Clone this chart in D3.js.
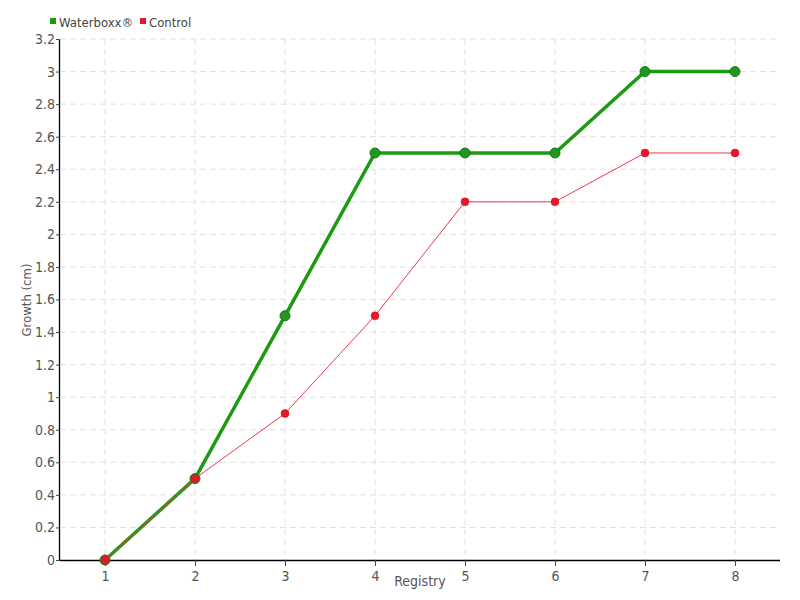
<!DOCTYPE html>
<html><head><meta charset="utf-8">
<script src="https://cdn.jsdelivr.net/npm/d3@7"></script>
<style>
body{margin:0;background:#fff;}
text{font-family:"DejaVu Sans",sans-serif;font-stretch:condensed;}
</style></head>
<body><svg id="c" width="800" height="600"></svg>
<script>
const categories = [1,2,3,4,5,6,7,8];
const waterboxx = [0,0.5,1.5,2.5,2.5,2.5,3.0,3.0];
const control = [0,0.5,0.9,1.5,2.2,2.2,2.5,2.5];
const yTicks = [0,0.2,0.4,0.6,0.8,1,1.2,1.4,1.6,1.8,2,2.2,2.4,2.6,2.8,3,3.2];
const seriesNames = ["Waterboxx®","Control"];

const svg = d3.select("#c");
const m = {l:60, r:20, t:39, b:40};
const W = 800, H = 600;
const x = d3.scalePoint().domain(categories).range([m.l, W-m.r]).padding(0.5);
const y = d3.scaleLinear().domain([0,3.2]).range([H-m.b, m.t]);

// grid
const g = svg.append("g");
g.selectAll(".hg").data(yTicks.slice(1)).enter().append("line")
  .attr("x1", m.l).attr("x2", W-m.r).attr("y1", d=>y(d)).attr("y2", d=>y(d))
  .attr("stroke","#e0e0e0").attr("stroke-dasharray","6,4");
g.selectAll(".vg").data(categories).enter().append("line")
  .attr("x1", d=>x(d)).attr("x2", d=>x(d)).attr("y1", m.t).attr("y2", H-m.b)
  .attr("stroke","#e0e0e0").attr("stroke-dasharray","6,4");

// axes
const yAxis = svg.append("g").attr("transform",`translate(${m.l},0)`)
  .call(d3.axisLeft(y).tickValues(yTicks).tickSize(4).tickFormat(d=>String(+d.toFixed(1))));
const xAxis = svg.append("g").attr("transform",`translate(0,${H-m.b})`)
  .call(d3.axisBottom(x).tickSize(6).tickSizeOuter(0));
xAxis.select(".domain").attr("d", `M${m.l},0.5H${W-m.r}`);
yAxis.select(".domain").attr("d", `M-0.5,${m.t}V${H-m.b}`);
[xAxis,yAxis].forEach(a=>{
  a.selectAll(".domain").attr("stroke","#000").attr("stroke-width",1.3);
  a.selectAll(".tick line").attr("stroke","#444");
  a.selectAll(".tick text").attr("fill","#555").style("font-size","14px")
    .style("font-family","'DejaVu Sans', sans-serif").style("font-stretch","condensed");
});
xAxis.selectAll(".tick text").attr("dy","0.85em");
yAxis.selectAll(".tick text").attr("x",-5);

// titles
svg.append("text").attr("x",420).attr("y",586).attr("text-anchor","middle")
  .attr("fill","#555").style("font-size","14px").text("Registry");
svg.append("text").attr("transform","translate(31,300) rotate(-90)").attr("text-anchor","middle")
  .attr("fill","#555").style("font-size","13px").text("Growth (cm)");

// lines
const line = d3.line().x((d,i)=>x(categories[i])).y(d=>y(d));
svg.append("path").datum(waterboxx).attr("d",line).attr("fill","none")
  .attr("stroke","#1c9a12").attr("stroke-width",3.5);
svg.selectAll(".wp").data(waterboxx).enter().append("circle")
  .attr("cx",(d,i)=>x(categories[i])).attr("cy",d=>y(d)).attr("r",5)
  .attr("fill","#23961f").attr("stroke","#17791a").attr("stroke-width",1);
svg.append("path").datum(control).attr("d",line).attr("fill","none")
  .attr("stroke","#f0364c").attr("stroke-width",1);
svg.selectAll(".cp").data(control).enter().append("circle")
  .attr("cx",(d,i)=>x(categories[i])).attr("cy",d=>y(d)).attr("r",4)
  .attr("fill","#e8162c").attr("stroke","#d01020").attr("stroke-width",0.5);

// legend
const colors = ["#1c9a12","#e8162c"];
const lx = [50, 140];
seriesNames.forEach((n,i)=>{
  svg.append("rect").attr("x",lx[i]).attr("y",18).attr("width",6).attr("height",6).attr("fill",colors[i]);
  svg.append("text").attr("x",lx[i]+9).attr("y",26.5).attr("fill","#444")
    .style("font-size","13px").text(n);
});
</script></body></html>
